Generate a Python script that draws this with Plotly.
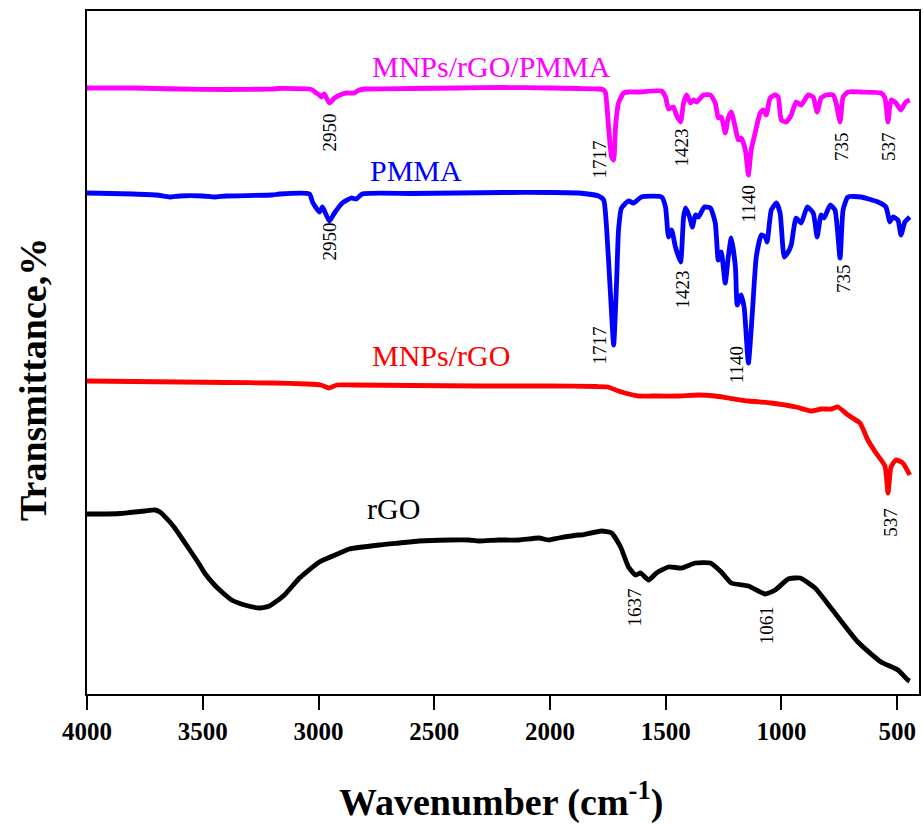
import plotly.graph_objects as go

# ---------------- data ----------------
wn_pmma_rgo = [4000, 3800, 3600, 3400, 3200, 3168, 3039, 3026, 3009, 2996, 2988, 2975, 2953, 2931, 2897, 2880,
               2845, 2824, 2800, 2600, 2400, 2200, 2000, 1876, 1790, 1768, 1760, 1747, 1734, 1725, 1717, 1704,
               1682, 1661, 1617, 1518, 1501, 1488, 1467, 1454, 1436, 1423, 1410, 1393, 1380, 1367, 1337, 1307,
               1286, 1273, 1260, 1243, 1230, 1217, 1199, 1187, 1174, 1156, 1143, 1131, 1113, 1092, 1079, 1066,
               1049, 1027, 1014, 1001, 980, 958, 937, 915, 885, 863, 846, 829, 807, 777, 764, 747, 734, 713,
               657, 570, 553, 540, 527, 506, 484, 463, 446]
t_pmma_rgo = [60.6, 60.6, 60.5, 60.45, 60.5, 60.55, 60.5, 60.4, 60.1, 59.9, 59.7, 60.0, 59.1, 59.6, 60.0, 60.1,
              60.1, 60.4, 60.5, 60.55, 60.6, 60.65, 60.6, 60.55, 60.5, 60.4, 60.1, 56.7, 53.7, 53.4, 56.7, 59.1,
              60.1, 60.2, 60.2, 60.3, 59.7, 58.5, 58.7, 57.9, 57.2, 59.1, 59.9, 59.1, 59.4, 59.2, 59.9, 59.9,
              59.1, 57.6, 57.7, 56.1, 57.6, 58.2, 56.6, 55.4, 55.6, 54.4, 51.9, 54.4, 56.2, 58.1, 58.4, 57.9,
              59.6, 59.9, 59.7, 57.4, 57.2, 57.9, 59.2, 58.9, 59.9, 59.7, 58.2, 59.6, 59.9, 59.9, 59.1, 57.2,
              59.7, 60.2, 60.2, 60.1, 59.6, 57.2, 59.4, 59.1, 58.4, 59.2, 59.4]

wn_pmma = [4000, 3800, 3700, 3642, 3600, 3500, 3449, 3400, 3200, 3168, 3039, 3026, 2996, 2983, 2953, 2931,
           2897, 2858, 2837, 2811, 2600, 2400, 2200, 2000, 1876, 1790, 1768, 1755, 1738, 1725, 1712, 1704,
           1691, 1661, 1639, 1605, 1518, 1501, 1488, 1475, 1458, 1436, 1423, 1414, 1397, 1385, 1372, 1359,
           1333, 1307, 1286, 1273, 1260, 1243, 1230, 1217, 1199, 1191, 1174, 1161, 1143, 1126, 1109, 1087,
           1070, 1062, 1044, 1022, 1006, 988, 971, 958, 937, 915, 889, 863, 846, 829, 816, 790, 769, 747,
           734, 713, 657, 583, 549, 532, 519, 497, 484, 467, 446]
t_pmma = [50.1, 50.0, 49.9, 49.7, 49.8, 49.8, 49.7, 49.8, 49.9, 50.0, 50.0, 49.2, 48.2, 48.7, 47.3, 48.1,
          49.1, 49.6, 49.5, 50.0, 50.05, 50.1, 50.15, 50.15, 50.1, 49.8, 49.4, 46.4, 39.7, 34.9, 41.4, 46.4,
          48.6, 49.3, 49.1, 49.7, 49.7, 48.7, 45.7, 46.4, 44.7, 43.2, 47.7, 48.6, 47.7, 46.7, 47.9, 47.7,
          48.7, 48.6, 47.1, 43.4, 44.2, 41.1, 43.7, 45.6, 42.7, 38.9, 39.9, 38.6, 33.1, 38.1, 43.7, 45.9,
          45.7, 45.2, 48.4, 49.1, 48.1, 43.7, 44.2, 44.9, 47.6, 47.1, 48.7, 48.1, 45.7, 47.9, 47.6, 48.9,
          48.4, 43.6, 48.4, 49.7, 49.7, 49.2, 48.7, 47.2, 47.7, 47.4, 45.9, 47.2, 47.7]

wn_mnp_rgo = [4000, 3800, 3600, 3400, 3200, 3050, 2990, 2955, 2920, 2850, 2600, 2300, 2000, 1800, 1750, 1704,
              1660, 1617, 1560, 1450, 1359, 1286, 1230, 1143, 1044, 937, 872, 829, 786, 756, 713, 661, 627,
              592, 553, 540, 527, 506, 476, 446]
t_mnp_rgo = [31.3, 31.25, 31.2, 31.15, 31.1, 31.0, 30.9, 30.6, 30.9, 30.9, 30.85, 30.8, 30.8, 30.75, 30.7, 30.3,
             30.0, 29.8, 29.8, 29.8, 29.9, 29.8, 29.6, 29.3, 29.1, 28.7, 28.3, 28.5, 28.5, 28.7, 27.9, 27.1, 25.4,
             24.1, 22.8, 20.1, 22.7, 23.4, 23.1, 21.9]

wn_rgo = [4000, 3944, 3858, 3815, 3750, 3707, 3685, 3642, 3621, 3556, 3513, 3492, 3449, 3427, 3375, 3319,
          3255, 3212, 3147, 3082, 2996, 2888, 2867, 2738, 2651, 2565, 2436, 2350, 2307, 2221, 2134, 2048,
          2005, 1962, 1876, 1863, 1777, 1734, 1695, 1661, 1630, 1609, 1574, 1540, 1488, 1432, 1372, 1307,
          1260, 1217, 1143, 1070, 1027, 971, 919, 855, 786, 670, 570, 497, 454, 446]
t_rgo = [18.0, 18.0, 18.05, 18.15, 18.3, 18.4, 18.2, 17.2, 16.6, 14.4, 12.9, 12.1, 10.9, 10.4, 9.4, 8.9,
         8.6, 8.8, 9.9, 11.6, 13.2, 14.3, 14.5, 14.9, 15.1, 15.3, 15.4, 15.4, 15.3, 15.4, 15.4, 15.6,
         15.4, 15.6, 15.9, 15.9, 16.3, 16.1, 14.7, 12.7, 11.9, 12.1, 11.4, 12.1, 12.7, 12.6, 13.1, 13.1,
         12.2, 11.1, 10.8, 10.0, 10.4, 11.5, 11.6, 10.6, 8.6, 5.2, 3.2, 2.4, 1.4, 1.3]

series_names = ["MNPs/rGO/PMMA", "PMMA", "MNPs/rGO", "rGO"]
series_colors = ["#FF00FF", "#0000FF", "#FF0000", "#000000"]
series_x = [wn_pmma_rgo, wn_pmma, wn_mnp_rgo, wn_rgo]
series_y = [t_pmma_rgo, t_pmma, t_mnp_rgo, t_rgo]
name_x = [2251, 2580, 2473, 2675]
name_y = [62.8, 52.4, 33.9, 18.6]

peak_text = ["2950", "1717", "1423", "1140", "735", "537",
             "2950", "1717", "1423", "1140", "735",
             "537", "1637", "1061"]
peak_x = [2953, 1790, 1436, 1143, 743, 540,
          2953, 1790, 1428, 1195, 734,
          532, 1635, 1066]
peak_y = [56.2, 53.4, 54.6, 49.0, 54.8, 54.8,
          45.3, 34.8, 40.5, 32.9, 41.5,
          17.2, 8.7, 6.9]

x_ticks = [4000, 3500, 3000, 2500, 2000, 1500, 1000, 500]

# ---------------- figure ----------------
SERIF = "Liberation Serif"
fig = go.Figure()
for name, col, xs, ys in zip(series_names, series_colors, series_x, series_y):
    fig.add_trace(go.Scatter(x=xs, y=ys, mode="lines", name=name,
                             line=dict(color=col, width=4.8, shape="spline", smoothing=0.5),
                             showlegend=False))

ann = []
for name, col, x, y in zip(series_names, series_colors, name_x, name_y):
    ann.append(dict(x=x, y=y, xref="x", yref="y", text=name, showarrow=False,
                    xanchor="center", yanchor="middle",
                    font=dict(family=SERIF, size=30, color=col)))
for t, x, y in zip(peak_text, peak_x, peak_y):
    ann.append(dict(x=x, y=y, xref="x", yref="y", text=t, showarrow=False, textangle=-90,
                    xanchor="center", yanchor="middle",
                    font=dict(family=SERIF, size=19, color="black")))
ann.append(dict(x=0.497, y=-0.155, xref="paper", yref="paper", showarrow=False,
                xanchor="center", yanchor="middle",
                text="<b>Wavenumber (cm<sup>-1</sup>)</b>",
                font=dict(family=SERIF, size=38, color="black")))
ann.append(dict(x=-0.0647, y=0.46, xref="paper", yref="paper", showarrow=False, textangle=-90,
                xanchor="center", yanchor="middle",
                text="<b>Transmittance,%</b>",
                font=dict(family=SERIF, size=38, color="black")))

fig.update_layout(
    width=923, height=825,
    margin=dict(l=87, r=2, t=11, b=131),
    plot_bgcolor="white", paper_bgcolor="white",
    annotations=ann,
    xaxis=dict(range=[4000, 406], tickvals=x_ticks, ticks="outside", ticklen=14, tickwidth=2,
               tickcolor="black", showline=True, linewidth=2, linecolor="black", mirror=True,
               showgrid=False, zeroline=False,
               tickfont=dict(family=SERIF, size=25, color="black", weight="bold")),
    yaxis=dict(range=[0, 68.3], showticklabels=False, ticks="", showline=True, linewidth=2,
               linecolor="black", mirror=True, showgrid=False, zeroline=False),
)
fig.write_html("out.html")
